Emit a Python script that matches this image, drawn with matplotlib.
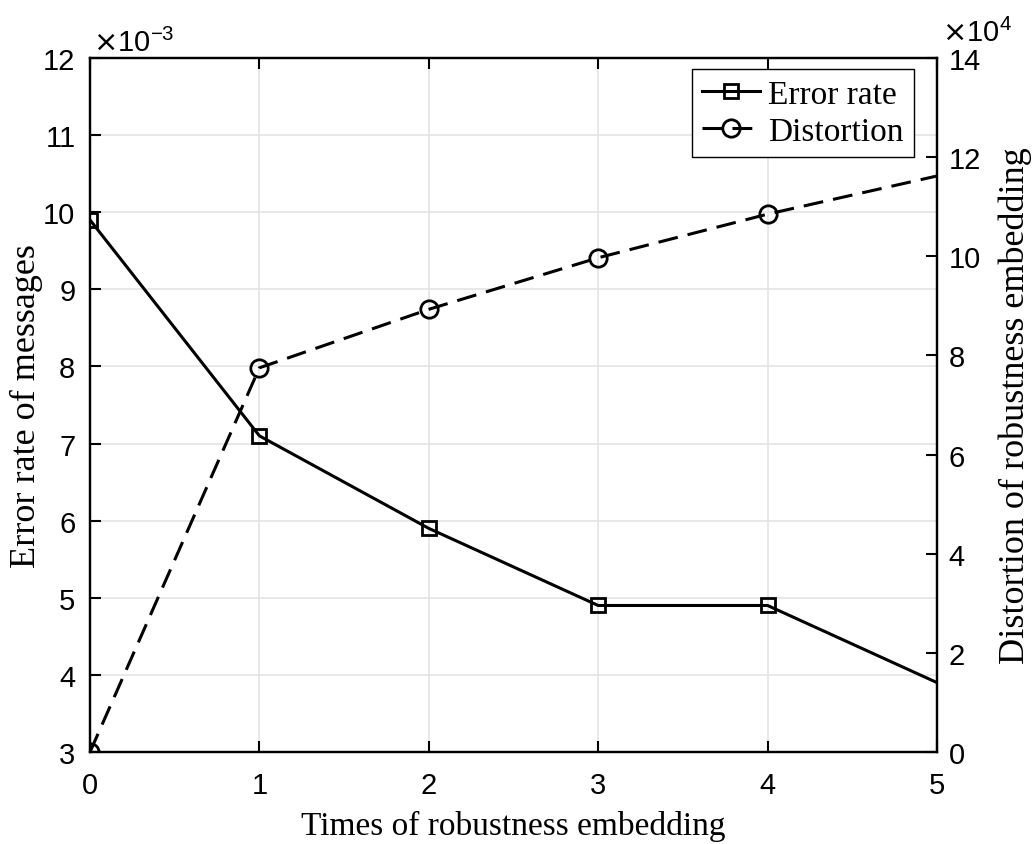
import numpy as np
import matplotlib.pyplot as plt

times = [0, 1, 2, 3, 4, 5]
error_rate = [9.9, 7.1, 5.9, 4.9, 4.9, 3.9]        # x 1e-3
distortion = [0.0, 7.75, 8.93, 9.97, 10.85, 11.62]  # x 1e4

left_ticks = [3, 4, 5, 6, 7, 8, 9, 10, 11, 12]
right_ticks = [0, 2, 4, 6, 8, 10, 12, 14]

sans = ['Liberation Sans', 'DejaVu Sans']
serif = ['Liberation Serif', 'DejaVu Serif']
plt.rcParams['font.family'] = sans

fig = plt.figure(figsize=(10.35, 8.45), dpi=100)
ax = fig.add_axes([90 / 1035, 1 - 753 / 845, 847 / 1035, 694 / 845])
ax2 = ax.twinx()

# the last point has no marker, as in the original figure
marked = [0, 1, 2, 3, 4]
l1, = ax.plot(times, error_rate, color='black', lw=2.2, marker='s', ms=10,
              mfc='none', mec='black', mew=2.0, markevery=marked)
l2, = ax2.plot(times, distortion, color='black', lw=2.2, ls=(0, (6.5, 3.3)),
               marker='o', ms=12.5, mfc='none', mec='black', mew=2.0,
               markevery=marked)

ax.set_xlim(0, 5)
ax.set_ylim(3, 12)
ax2.set_ylim(0, 14)
ax.set_xticks(times)
ax.set_yticks(left_ticks)
ax2.set_yticks(right_ticks)

ax.grid(True, color='#e4e4e4', lw=1.2)
ax.set_axisbelow(True)

for a in (ax, ax2):
    for s in a.spines.values():
        s.set_linewidth(1.6)
    a.tick_params(direction='in', length=8, width=1.5, labelsize=21)
ax.tick_params(axis='x', top=True, pad=14)
ax.tick_params(axis='y', pad=10.5)
ax2.tick_params(axis='y', left=False, right=True, pad=8.5)

ax.set_xlabel('Times of robustness embedding', fontsize=24, family=serif, va='top')
ax.xaxis.set_label_coords(0.5, -0.083)
ax.set_ylabel('Error rate of messages', fontsize=26, family=serif, va='center')
ax.yaxis.set_label_coords(-0.0756, 0.5)
ax2.set_ylabel('Distortion of robustness embedding', fontsize=26, family=serif,
               rotation=90, va='center')
ax2.yaxis.set_label_coords(1.092, 0.5)

# exponent labels above each y axis
ax.text(0.003, 1.0101, r'$\times$10$^{\mathregular{-3}}$', transform=ax.transAxes,
        fontsize=21, ha='left', va='baseline')
ax2.text(1.006, 1.0245, r'$\times$10$^{\mathregular{4}}$', transform=ax2.transAxes,
         fontsize=21, ha='left', va='baseline')

leg = ax2.legend([l1, l2], ['Error rate', 'Distortion'], loc='upper right',
                 bbox_to_anchor=(0.9728, 0.984), prop={'family': serif, 'size': 24},
                 fancybox=False, framealpha=1, edgecolor='black',
                 handlelength=1.75, handletextpad=0.25, borderpad=0.3,
                 labelspacing=0.2, borderaxespad=0)
leg.get_frame().set_linewidth(1.0)

fig.savefig('out.png', dpi=100, facecolor='white')
